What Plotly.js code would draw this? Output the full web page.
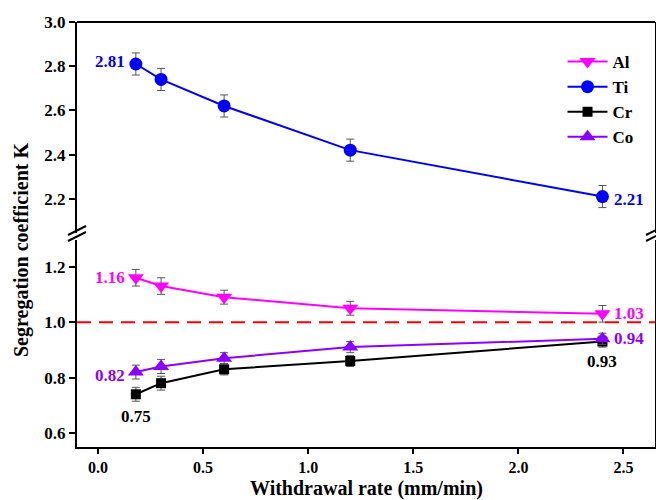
<!DOCTYPE html>
<html><head><meta charset="utf-8">
<script src="https://cdn.plot.ly/plotly-3.0.1.min.js"></script>
<style>body{margin:0;background:#fff}#chart{width:656px;height:500px}</style>
</head><body><div id="chart"></div>
<script>
const rate = [0.18, 0.3, 0.6, 1.2, 2.4];
const Al = [1.16, 1.13, 1.09, 1.05, 1.03];
const Ti = [2.81, 2.74, 2.62, 2.42, 2.21];
const Cr = [0.74, 0.78, 0.83, 0.86, 0.93];
const Co = [0.82, 0.84, 0.87, 0.91, 0.94];
const errAl = [0.03, 0.03, 0.025, 0.025, 0.03];
const errTi = [0.05, 0.05, 0.05, 0.05, 0.05];
const errCr = [0.025, 0.025, 0.02, 0.02, 0.02];
const errCo = [0.025, 0.025, 0.02, 0.02, 0.02];
const lowerTicks = [0.6, 0.8, 1.0, 1.2];
const upperTicks = [2.2, 2.4, 2.6, 2.8, 3.0];
const xTicks = [0.0, 0.5, 1.0, 1.5, 2.0, 2.5];
const crFirstLabel = '0.75';

const FONT = 'Liberation Serif, Times New Roman, serif';
const cAl = '#FF00FF', cTi = '#0000FF', cCr = '#000000', cCo = '#8B00FF';
function eb(arr){return {type:'data', array:arr, visible:true, color:'#555', thickness:1, width:4};}

const traces = [
  {x: rate, y: Al, name: 'Al', yaxis: 'y', mode: 'lines+markers', line:{color:cAl, width:2},
   marker:{symbol:'triangle-down', size:14, color:cAl}, error_y: eb(errAl)},
  {x: rate, y: Ti, name: 'Ti', yaxis: 'y2', mode: 'lines+markers', line:{color:cTi, width:2},
   marker:{symbol:'circle', size:13, color:cTi}, error_y: eb(errTi)},
  {x: rate, y: Cr, name: 'Cr', yaxis: 'y', mode: 'lines+markers', line:{color:cCr, width:2},
   marker:{symbol:'square', size:10, color:cCr}, error_y: eb(errCr)},
  {x: rate, y: Co, name: 'Co', yaxis: 'y', mode: 'lines+markers', line:{color:cCo, width:2},
   marker:{symbol:'triangle-up', size:14, color:cCo}, error_y: eb(errCo)}
];

// plot area geometry in pixels
const L = 77, R = 655, T = 22, B = 447;
const W = R - L, H = B - T;
function px(x){return (x - L) / W;}
function py(y){return (B - y) / H;}
const upperBottom = 233, lowerTop = 240;

const shapes = [
  {type:'line', xref:'paper', yref:'y', x0:0, x1:1, y0:1.0, y1:1.0, line:{color:'#FF0000', width:2, dash:'14px,8px'}},
  {type:'line', xref:'paper', yref:'paper', x0:0, x1:1, y0:1, y1:1, line:{color:'#000', width:2}},
];
[L, R].forEach(xc => {
  [0, 6].forEach(off => {
    shapes.push({type:'line', xref:'paper', yref:'paper',
      x0: px(xc - 9), y0: py(240 + off - 5), x1: px(xc + 9), y1: py(231 + off - 5),
      line:{color:'#000', width:2}});
  });
});

function ann(x, y, yref, text, color, xanchor, xshift, yshift){
  return {x:x, y:y, xref:'x', yref:yref, text:text, showarrow:false,
    font:{family:FONT, size:17, color:color, weight:'bold'},
    xanchor:xanchor, yanchor:'middle', xshift:xshift, yshift:yshift};
}
const annotations = [
  ann(rate[0], Ti[0], 'y2', Ti[0].toFixed(2), cTi, 'right', -9, 2),
  ann(rate[4], Ti[4], 'y2', Ti[4].toFixed(2), cTi, 'left', 10, -3),
  ann(rate[0], Al[0], 'y', Al[0].toFixed(2), cAl, 'right', -9, 0),
  ann(rate[4], Al[4], 'y', Al[4].toFixed(2), cAl, 'left', 10, 0),
  ann(rate[0], Co[0], 'y', Co[0].toFixed(2), cCo, 'right', -9, -3),
  ann(rate[4], Co[4], 'y', Co[4].toFixed(2), cCo, 'left', 10, 0),
  ann(rate[0], Cr[0], 'y', crFirstLabel, cCr, 'center', 0, -22),
  ann(rate[4], Cr[4], 'y', Cr[4].toFixed(2), cCr, 'center', 0, -20)
];

const axisCommon = {showline:true, linecolor:'#000', linewidth:2, ticks:'outside', ticklen:6, tickwidth:2,
  tickcolor:'#000', showgrid:false, zeroline:false,
  tickfont:{family:FONT, size:17, color:'#000', weight:'bold'}};

const layout = {
  width:656, height:500,
  margin:{l:L, r:656-R, t:T, b:500-B},
  paper_bgcolor:'#fff', plot_bgcolor:'#fff',
  showlegend:true,
  legend:{x:0.84, y:py(44), xanchor:'left', yanchor:'top', bgcolor:'rgba(0,0,0,0)',
    font:{family:FONT, size:17, color:'#000', weight:'bold'}, itemwidth:40, tracegroupgap:0},
  xaxis: Object.assign({}, axisCommon, {range:[-0.1, 2.65], tickvals:xTicks, ticktext:xTicks.map(v=>v.toFixed(1)),
    anchor:'y', ticklen:5, tickfont:{family:FONT, size:16, color:'#000', weight:'bold'}}),
  yaxis: Object.assign({}, axisCommon, {domain:[0, py(lowerTop)], range:[0.55, 1.296], tickvals:lowerTicks,
    ticktext:lowerTicks.map(v=>v.toFixed(1)), mirror:true, anchor:'x'}),
  yaxis2: Object.assign({}, axisCommon, {domain:[py(upperBottom), 1], range:[2.045, 3.0], tickvals:upperTicks,
    ticktext:upperTicks.map(v=>v.toFixed(1)), mirror:true, anchor:'x'}),
  shapes: shapes,
  annotations: annotations.concat([
    {text:'Segregation coefficient K', xref:'paper', yref:'paper', x:px(21), y:py(250), textangle:-90,
     showarrow:false, xanchor:'center', yanchor:'middle',
     font:{family:FONT, size:20, color:'#000', weight:'bold'}},
    {text:'Withdrawal rate (mm/min)', xref:'paper', yref:'paper', x:px(366), y:py(501),
     showarrow:false, xanchor:'center', yanchor:'bottom', borderpad:0,
     font:{family:FONT, size:20, color:'#000', weight:'bold'}}
  ])
};

Plotly.newPlot('chart', traces, layout, {displayModeBar:false});
</script></body></html>
